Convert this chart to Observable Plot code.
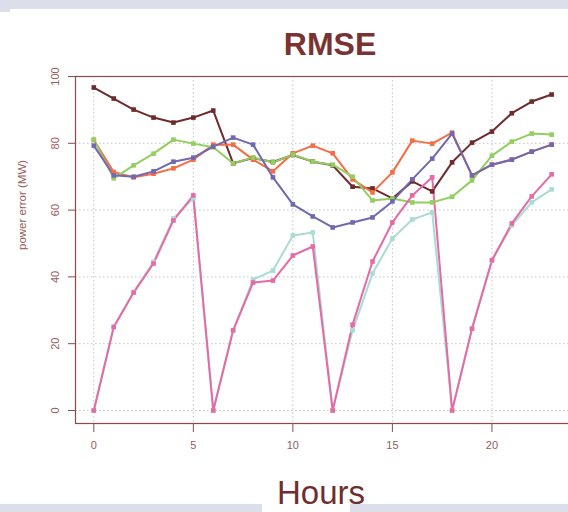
<!DOCTYPE html>
<html>
<head>
<meta charset="utf-8">
<script src="https://cdn.jsdelivr.net/npm/d3@7"></script>
<script src="https://cdn.jsdelivr.net/npm/@observablehq/plot@0.6"></script>
<style>
  html, body { margin: 0; padding: 0; background: #fff; overflow: hidden; }
  #wrap { position: relative; width: 568px; height: 512px; overflow: hidden; font-family: "Liberation Sans", Arial, sans-serif; }
  .band { position: absolute; background: #dcdfea; }
  #title { position: absolute; left: 0; width: 660px; top: 26px; text-align: center; font-size: 32px; font-weight: bold; color: #7a3333; }
  #xlabel { position: absolute; left: 0; width: 642px; top: 474px; text-align: center; font-size: 33px; color: #6e2e2e; }
  #chart { position: absolute; left: 0; top: 0; width: 600px; }
  #chart svg { max-width: none !important; }
</style>
</head>
<body>
<div id="wrap">
  <div id="chart"></div>
  <div class="band" style="left:0;top:0;width:568px;height:9px"></div>
  <div class="band" style="left:0;top:0;width:10px;height:12px"></div>
  <div class="band" style="left:0;top:504px;width:262px;height:8px"></div>
  <div class="band" style="left:350px;top:504px;width:218px;height:8px"></div>
  <div id="title">RMSE</div>
  <div id="xlabel">Hours</div>
</div>
<script>
const hours = d3.range(0, 24);
const seriesNames = ["S1", "S2", "S3", "S4", "S5", "S6"];
const seriesColors = ["#6e2b2b", "#f46d43", "#91cf60", "#7068b0", "#a9dcd3", "#e56aa6"];

const s1 = [96.7, 93.4, 90.1, 87.7, 86.2, 87.7, 89.8, 74.0, 75.6, 74.4, 76.5, 74.5, 73.4, 67.0, 66.5, 63.5, 68.6, 65.6, 74.3, 80.2, 83.5, 89.0, 92.5, 94.6];
const s2 = [81.0, 71.4, 69.8, 70.9, 72.5, 75.1, 79.6, 79.6, 75.1, 71.6, 77.0, 79.3, 77.0, 69.2, 65.3, 71.3, 80.8, 79.9, 83.2, 70.4, 73.6, 75.1, 77.5, 79.6];
const s3 = [81.1, 69.5, 73.4, 76.9, 81.1, 79.9, 78.8, 74.0, 75.7, 74.3, 76.6, 74.5, 73.6, 70.0, 62.9, 63.5, 62.3, 62.3, 64.0, 68.9, 76.3, 80.5, 82.9, 82.6];
const s4 = [79.3, 70.4, 70.0, 71.6, 74.5, 75.7, 79.0, 81.7, 79.6, 69.8, 61.7, 58.1, 54.8, 56.3, 57.8, 62.6, 69.2, 75.4, 82.9, 70.4, 73.6, 75.1, 77.5, 79.6];
const s5 = [0, 25.0, 35.5, 44.5, 57.5, 63.5, 0, 24.0, 39.2, 41.9, 52.4, 53.3, 0, 24.0, 41.0, 51.5, 57.2, 59.3, 0, 24.5, 44.8, 55.4, 62.3, 66.2];
const s6 = [0, 25.0, 35.3, 44.0, 56.9, 64.4, 0, 24.0, 38.3, 38.9, 46.4, 49.1, 0, 25.7, 44.6, 56.3, 64.4, 69.8, 0, 24.5, 45.0, 56.0, 64.1, 70.7];

const xTicks = [0, 5, 10, 15, 20];
const yTicks = [0, 20, 40, 60, 80, 100];
const xDomain = [-0.92, 24.5];
const yDomain = [-3.9, 100];
const yLabel = "power error (MW)";

const allSeries = [s1, s2, s3, s4, s5, s6];
const rows = [];
allSeries.forEach((vals, i) => {
  hours.forEach((h, j) => rows.push({series: seriesNames[i], hour: h, value: vals[j]}));
});

const axisColor = "#8b4a4a";
const textColor = "#9a5c5c";

const plot = Plot.plot({
  width: 600,
  height: 512,
  marginLeft: 75,
  marginRight: 19,
  marginTop: 76,
  marginBottom: 89,
  style: {fontFamily: "'Liberation Sans', Arial, sans-serif", fontSize: "11px", background: "transparent", maxWidth: "none"},
  x: {domain: xDomain},
  y: {domain: yDomain},
  color: {type: "ordinal", domain: seriesNames, range: seriesColors},
  marks: [
    Plot.gridX(xTicks, {stroke: "#c4c4c4", strokeOpacity: 1, strokeDasharray: "1.5,2.5"}),
    Plot.gridY(yTicks, {stroke: "#c4c4c4", strokeOpacity: 1, strokeDasharray: "1.5,2.5"}),
    Plot.frame({stroke: axisColor, strokeWidth: 1.2}),
    Plot.axisX(xTicks, {tickSize: 9, tickPadding: 9, stroke: axisColor, fill: textColor, label: null, fontSize: 11}),
    Plot.axisY(yTicks, {tickSize: 7, tickPadding: 10, tickRotate: -90, stroke: axisColor, fill: textColor, label: null, fontSize: 11}),
    Plot.text([yLabel], {frameAnchor: "left", dx: -53, rotate: -90, text: d => d, fill: textColor, fontSize: 11.5}),
    Plot.line(rows, {x: "hour", y: "value", z: "series", stroke: "series", strokeWidth: 2}),
    Plot.dot(rows, {x: "hour", y: "value", z: "series", fill: "series", symbol: "square", r: 2.6})
  ]
});
document.getElementById("chart").appendChild(plot);
</script>
</body>
</html>
